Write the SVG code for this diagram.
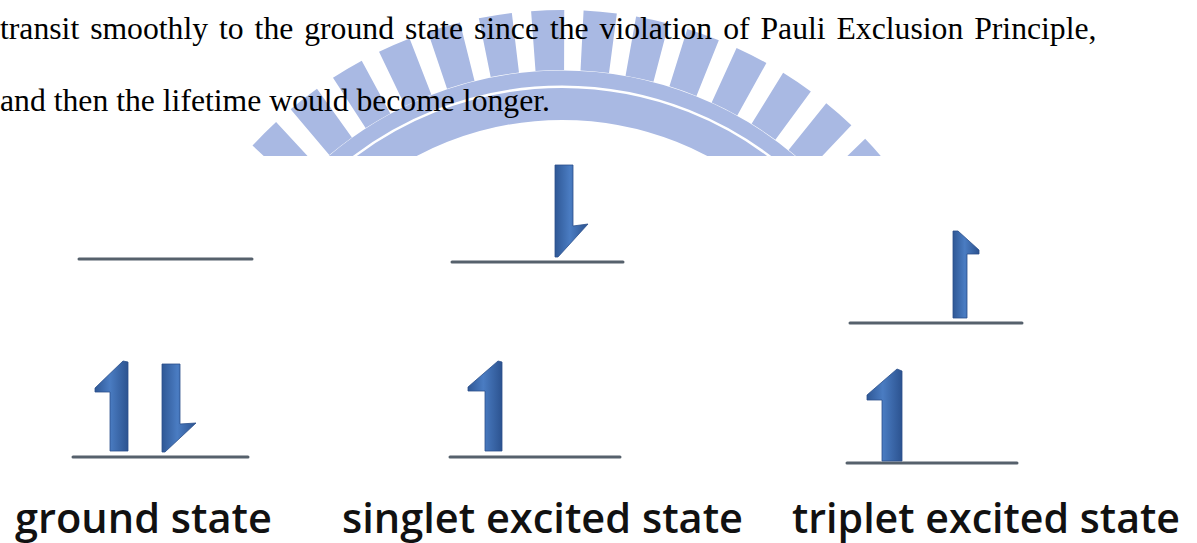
<svg xmlns="http://www.w3.org/2000/svg" width="1197" height="543" viewBox="0 0 1197 543">
  <defs>
    <linearGradient id="arrowGrad" x1="0" y1="0" x2="1" y2="0">
      <stop offset="0" stop-color="#2f5896"/>
      <stop offset="0.45" stop-color="#4a7cc2"/>
      <stop offset="1" stop-color="#2c5390"/>
    </linearGradient>
    <clipPath id="wmClip">
      <rect x="0" y="0" width="1197" height="156"/>
    </clipPath>
  </defs>
  <style>
    .body { font-family: "Liberation Serif", "Times New Roman", serif; font-size: 31.7px; fill: #000; }
    .label { font-family: "Open Sans", "Noto Sans", "Liberation Sans", sans-serif; font-size: 42px; font-weight: 600; fill: #111; }
    .level { stroke: #56616c; stroke-width: 3; stroke-linecap: round; fill: none; }
    .spin { fill: url(#arrowGrad); stroke: #2b4f8a; stroke-width: 0.8; stroke-linejoin: round; }
    .wm { fill: none; stroke: #a9b9e3; }
  </style>
  <rect x="0" y="0" width="1197" height="543" fill="#ffffff"/>

  <g id="watermark" clip-path="url(#wmClip)">
    <circle class="wm" cx="562" cy="431" r="391" stroke-width="60" stroke-dasharray="31 18"/>
    <circle class="wm" cx="562" cy="431" r="353" stroke-width="15"/>
    <circle class="wm" cx="562" cy="431" r="327" stroke-width="32"/>
  </g>

  <g id="paragraph">
    <text class="body" x="0" y="39" word-spacing="3">transit smoothly to the ground state since the violation of Pauli Exclusion Principle,</text>
    <text class="body" x="0" y="111">and then the lifetime would become longer.</text>
  </g>

  <g id="ground-state">
    <line class="level" x1="79" y1="259" x2="252" y2="259"/>
    <line class="level" x1="73" y1="457" x2="248" y2="457"/>
    <polygon class="spin" points="128,451 128,362 123,361 95,388 95,392 110,392 110,451"/>
    <polygon class="spin" points="162,364 180,364 180,424 196,423 165,452 162,452"/>
    <text class="label" x="15" y="533" textLength="257" lengthAdjust="spacingAndGlyphs">ground state</text>
  </g>

  <g id="singlet-excited-state">
    <line class="level" x1="452" y1="262" x2="623" y2="262"/>
    <line class="level" x1="450" y1="457" x2="620" y2="457"/>
    <polygon class="spin" points="555,165 573,165 573,226 588,224 558,257 555,257"/>
    <polygon class="spin" points="502,451 502,362 498,361 468,387 468,391 485,391 485,451"/>
    <text class="label" x="342" y="533" textLength="401" lengthAdjust="spacingAndGlyphs">singlet excited state</text>
  </g>

  <g id="triplet-excited-state">
    <line class="level" x1="850" y1="323" x2="1022" y2="323"/>
    <line class="level" x1="847" y1="463" x2="1017" y2="463"/>
    <polygon class="spin" points="953,318 967,318 967,254 979,254 979,250 958,231 953,231"/>
    <polygon class="spin" points="902,461 902,371 897,369 867,395 867,400 882,400 882,461"/>
    <text class="label" x="792" y="533" textLength="388" lengthAdjust="spacingAndGlyphs">triplet excited state</text>
  </g>

  <g id="connectors"></g>
</svg>
